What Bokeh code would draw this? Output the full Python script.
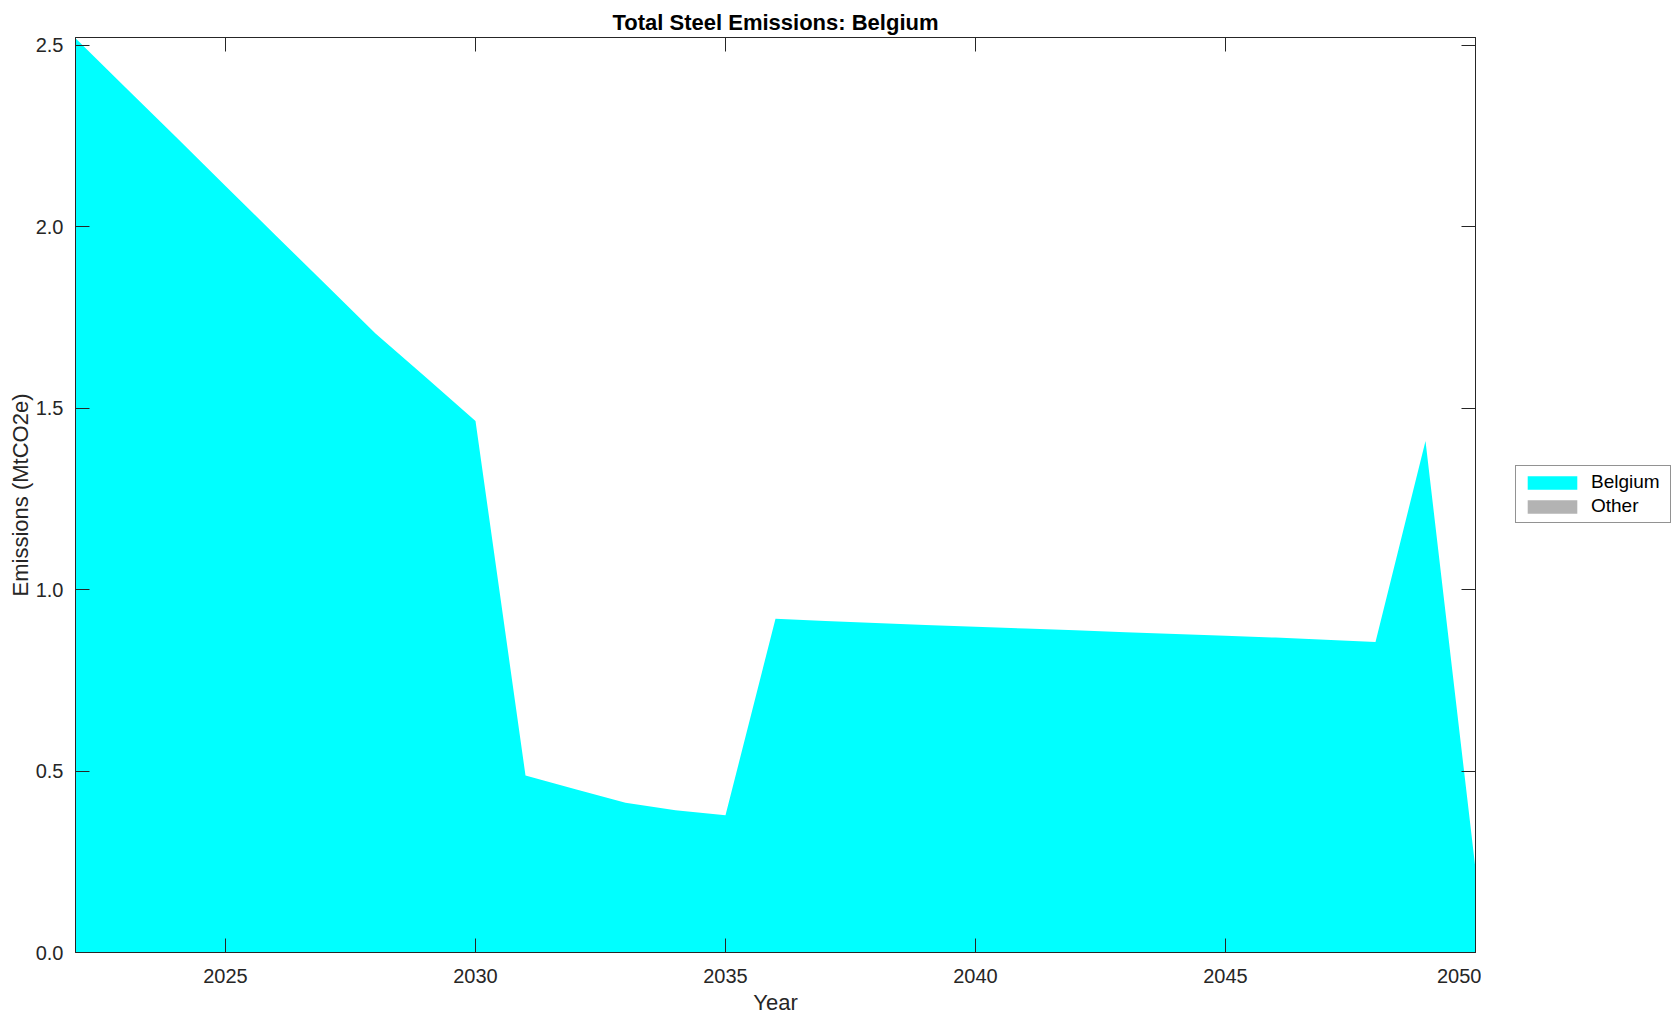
from bokeh.plotting import figure
from bokeh.layouts import row
from bokeh.models import (Range1d, LinearAxis, FixedTicker, NumeralTickFormatter,
                          Legend, LegendItem, ColumnDataSource)
from bokeh.embed import file_html
from bokeh.resources import INLINE

# ---- data ----
years = list(range(2022, 2051))
belgium = [2.52, 2.384, 2.249, 2.113, 1.977, 1.842, 1.706, 1.586, 1.465,
           0.488, 0.450, 0.413, 0.392, 0.378,
           0.920, 0.914, 0.908, 0.903, 0.898, 0.893, 0.888, 0.883, 0.878,
           0.873, 0.868, 0.862, 0.856, 1.410, 0.23]
other = [0.0] * len(years)
series_names = ["Belgium", "Other"]
series_colors = ["#00FFFF", "#B3B3B3"]
x_ticks = [2025, 2030, 2035, 2040, 2045, 2050]
y_ticks = [0.0, 0.5, 1.0, 1.5, 2.0, 2.5]

FONT = "Liberation Sans"
AX = "#262626"
H = 1018

src = ColumnDataSource(dict(year=years, Belgium=belgium, Other=other))

p = figure(width=1481, height=H, output_backend="svg", toolbar_location=None,
           x_range=Range1d(2022, 2050), y_range=Range1d(0, 2.522),
           min_border_left=75, min_border_right=6, min_border_top=37,
           min_border_bottom=66, title="Total Steel Emissions: Belgium")

p.varea_stack(stackers=series_names, x="year", color=series_colors, source=src)

p.title.align = "center"
p.title.text_font = FONT
p.title.text_font_size = "22px"
p.title.text_font_style = "bold"
p.title.text_color = "#000000"
p.title.standoff = 5

p.xgrid.visible = False
p.ygrid.visible = False
p.outline_line_color = AX
p.outline_line_width = 1
p.background_fill_color = "white"
p.border_fill_color = "white"


def style_axis(ax, ticks, show_labels):
    ax.ticker = FixedTicker(ticks=ticks)
    ax.major_tick_in = 14
    ax.major_tick_out = 0
    ax.minor_tick_in = 0
    ax.minor_tick_out = 0
    ax.axis_line_color = AX
    ax.axis_line_width = 1
    ax.major_tick_line_color = AX
    ax.major_tick_line_width = 1
    ax.major_label_text_font = FONT
    ax.major_label_text_font_size = "20px"
    ax.major_label_text_color = AX
    if not show_labels:
        ax.major_label_overrides = {t: "" for t in ticks}
        ax.major_label_standoff = 0


xa = p.xaxis[0]
ya = p.yaxis[0]
style_axis(xa, x_ticks, True)
style_axis(ya, y_ticks, True)
ya.formatter = NumeralTickFormatter(format="0.0")
xa.major_label_standoff = 16
ya.major_label_standoff = 12
xa.axis_label = "Year"
ya.axis_label = "Emissions (MtCO2e)"
for ax in (xa, ya):
    ax.axis_label_text_font = FONT
    ax.axis_label_text_font_size = "22px"
    ax.axis_label_text_font_style = "normal"
    ax.axis_label_text_color = AX
xa.axis_label_standoff = 4
ya.axis_label_standoff = 0

top_ax = LinearAxis()
style_axis(top_ax, x_ticks, False)
right_ax = LinearAxis()
style_axis(right_ax, y_ticks, False)
p.add_layout(top_ax, "above")
p.add_layout(right_ax, "right")

# legend panel (separate figure to the right of the axes box)
lf = figure(width=194, height=H, output_backend="svg", toolbar_location=None,
            x_range=Range1d(0, 1), y_range=Range1d(0, 1),
            x_axis_type=None, y_axis_type=None,
            min_border_left=0, min_border_right=0, min_border_top=0, min_border_bottom=0)
lf.xgrid.visible = False
lf.ygrid.visible = False
lf.outline_line_color = None
lf.background_fill_color = "white"
lf.border_fill_color = "white"
leg_renderers = lf.varea_stack(stackers=series_names, x="year", color=series_colors, source=src)

legend = Legend(items=[LegendItem(label=n, renderers=[r]) for n, r in zip(series_names, leg_renderers)],
                location=(34, 429))
legend.label_text_font = FONT
legend.label_text_font_size = "19px"
legend.label_text_color = "#000000"
legend.glyph_width = 62
legend.glyph_height = 17
legend.label_height = 17
legend.label_width = 74
legend.spacing = 2
legend.padding = 5
legend.label_standoff = 8
legend.border_line_color = AX
legend.border_line_width = 1
legend.background_fill_color = "white"
legend.background_fill_alpha = 1.0
legend.margin = 0
lf.add_layout(legend, "center")

layout = row(p, lf, spacing=0)
open("out.html", "w").write(file_html(layout, INLINE))
